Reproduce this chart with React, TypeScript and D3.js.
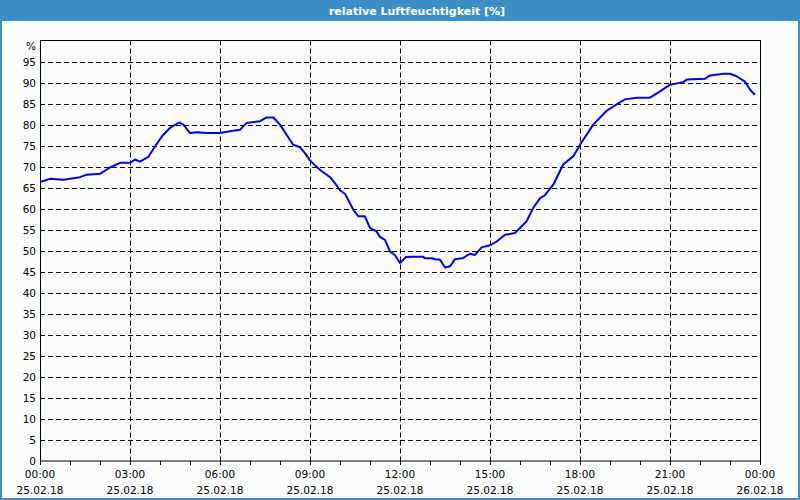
import React from "react";
import * as d3 from "d3";

const hours: number[] = [
  0.03, 0.33, 0.78, 1.33, 1.56, 2.0, 2.33, 2.67, 3.0, 3.17, 3.33, 3.61, 3.83, 4.11, 4.33, 4.64, 4.78,
  5.0, 5.22, 5.56, 6.0, 6.33, 6.67, 6.89, 7.33, 7.56, 7.78, 8.0, 8.22, 8.44, 8.67, 8.83, 9.0, 9.17,
  9.39, 9.67, 9.83, 10.0, 10.17, 10.44, 10.61, 10.83, 11.0, 11.22, 11.33, 11.5, 11.67, 11.83, 12.0,
  12.2, 12.44, 12.76, 12.83, 13.06, 13.17, 13.33, 13.5, 13.67, 13.83, 14.11, 14.33, 14.5, 14.72,
  15.0, 15.22, 15.5, 15.83, 16.0, 16.22, 16.44, 16.67, 16.83, 17.11, 17.44, 17.78, 18.0, 18.44,
  18.89, 19.22, 19.5, 19.89, 20.33, 20.67, 21.0, 21.44, 21.56, 22.17, 22.33, 22.78, 23.0, 23.22,
  23.5, 23.67, 23.83,
];
const humidity: number[] = [
  66.4, 67.1, 66.9, 67.5, 68.1, 68.3, 69.8, 70.9, 70.9, 71.7, 71.2, 72.3, 74.8, 77.6, 79.2, 80.5, 80.0,
  78.0, 78.2, 78.0, 78.0, 78.4, 78.8, 80.4, 80.8, 81.7, 81.7, 80.0, 77.6, 75.2, 74.6, 73.2, 71.5, 70.3,
  68.9, 67.5, 66.1, 64.4, 63.5, 59.8, 58.2, 58.2, 55.4, 54.6, 53.3, 52.6, 49.8, 49.0, 47.1,
  48.5, 48.6, 48.6, 48.2, 48.2, 48.0, 47.9, 46.0, 46.3, 48.0, 48.3, 49.3, 49.0, 50.8,
  51.3, 52.2, 53.8, 54.2, 55.4, 57.0, 60.2, 62.5, 63.2, 65.7, 70.5, 72.5, 75.2, 80.0,
  83.3, 84.8, 86.0, 86.4, 86.4, 87.9, 89.5, 90.1, 90.7, 90.9, 91.7, 92.1, 92.1, 91.5,
  90.2, 88.3, 87.1,
];
const yTicks: number[] = [0, 5, 10, 15, 20, 25, 30, 35, 40, 45, 50, 55, 60, 65, 70, 75, 80, 85, 90, 95];
const xMajor: number[] = [0, 3, 6, 9, 12, 15, 18, 21, 24];
const timeLabels: string[] = ["00:00", "03:00", "06:00", "09:00", "12:00", "15:00", "18:00", "21:00", "00:00"];
const dateLabels: string[] = ["25.02.18", "25.02.18", "25.02.18", "25.02.18", "25.02.18", "25.02.18", "25.02.18", "25.02.18", "26.02.18"];
const title = "relative Luftfeuchtigkeit [%]";

export default function App() {
  const W = 800, H = 500;
  const left = 40, right = 760, top = 40.5, bottom = 461;
  const x = d3.scaleLinear().domain([0, 24]).range([left, right]);
  const y = d3.scaleLinear().domain([0, 100]).range([bottom, top]);
  const pts: [number, number][] = hours.map((h, i) => [h, humidity[i]]);
  const line = d3.line<[number, number]>().x(d => x(d[0])).y(d => y(d[1])).curve(d3.curveLinear);
  const hourTicks = d3.range(0, 25);
  const font = "'DejaVu Sans', Verdana, sans-serif";
  return (
    <svg width={W} height={H} style={{ position: "absolute", left: 0, top: 0, display: "block" }}>
      <rect x={0} y={0} width={W} height={H} fill="#3c8fc6" />
      <rect x={2} y={21} width={W - 4} height={H - 23} fill="#fbfdfc" />
      <text x={417} y={14.5} fill="#fff" fontFamily={font} fontWeight="bold" fontSize={11} textAnchor="middle">{title}</text>
      {yTicks.filter(t => t > 0).map(t => (
        <line key={"gy" + t} x1={left} x2={right} y1={Math.round(y(t)) + 0.5} y2={Math.round(y(t)) + 0.5}
          stroke="#000" strokeWidth={1} strokeDasharray="5,3" />
      ))}
      {xMajor.filter(h => h > 0 && h < 24).map(h => (
        <line key={"gx" + h} x1={Math.round(x(h)) + 0.5} x2={Math.round(x(h)) + 0.5} y1={top} y2={bottom}
          stroke="#000" strokeWidth={1} strokeDasharray="5,3" />
      ))}
      <rect x={left + 0.5} y={top} width={right - left} height={bottom - top} fill="none" stroke="#000" strokeWidth={1} />
      {hourTicks.map(h => (
        <line key={"t" + h} x1={Math.round(x(h)) + 0.5} x2={Math.round(x(h)) + 0.5} y1={bottom} y2={bottom + 4} stroke="#000" />
      ))}
      {yTicks.map(t => (
        <text key={"yl" + t} x={36} y={y(t) + 4} fontFamily={font} fontSize={10.5} textAnchor="end" fill="#000">{t}</text>
      ))}
      <text x={36} y={y(100) + 9} fontFamily={font} fontSize={10.5} textAnchor="end" fill="#000">%</text>
      {xMajor.map((h, i) => (
        <g key={"xl" + h}>
          <text x={x(h)} y={478} fontFamily={font} fontSize={10.5} textAnchor="middle" fill="#000">{timeLabels[i]}</text>
          <text x={x(h)} y={494} fontFamily={font} fontSize={10.5} textAnchor="middle" fill="#000">{dateLabels[i]}</text>
        </g>
      ))}
      <path d={line(pts) || ""} fill="none" stroke="#0000ee" strokeWidth={2} strokeLinejoin="round" />
    </svg>
  );
}
